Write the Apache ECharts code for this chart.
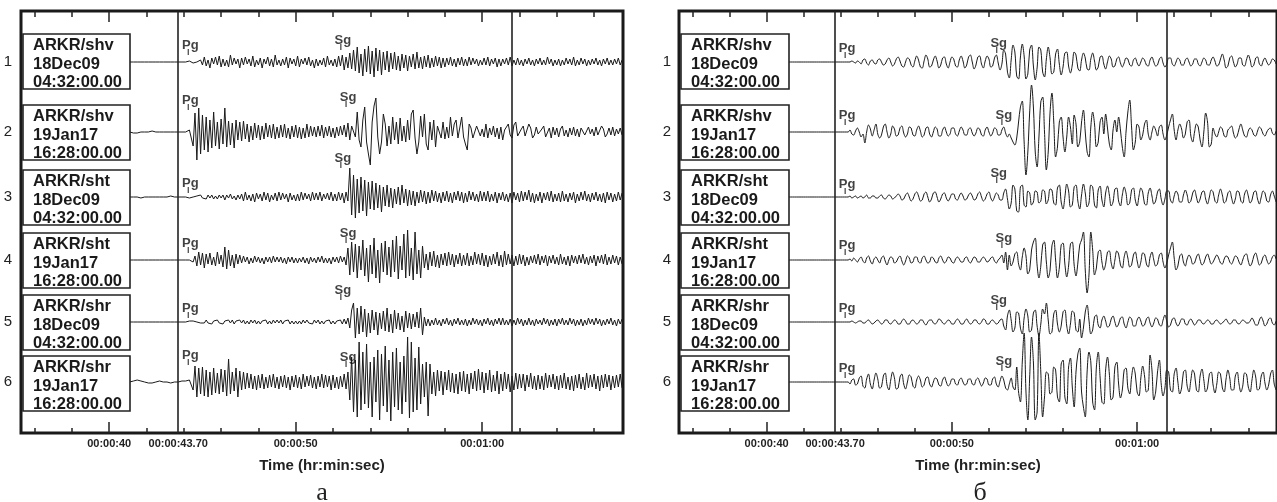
<!DOCTYPE html>
<html><head><meta charset="utf-8">
<script src="https://cdn.jsdelivr.net/npm/echarts@6/dist/echarts.min.js"></script>
<style>html,body{margin:0;padding:0;background:#fff}#c{width:1277px;height:502px}</style>
</head><body><div id="c"></div>
<script>
// ---------- data ----------
const stations = ['ARKR/shv','ARKR/shv','ARKR/sht','ARKR/sht','ARKR/shr','ARKR/shr'];
const eventDates = ['18Dec09','19Jan17','18Dec09','19Jan17','18Dec09','19Jan17'];
const eventTimes = ['04:32:00.00','16:28:00.00','04:32:00.00','16:28:00.00','04:32:00.00','16:28:00.00'];
const rowNumbers = ['1','2','3','4','5','6'];
const tickValues = [40, 43.7, 50, 60];
const tickLabels = ['00:00:40','00:00:43.70','00:00:50','00:01:00'];
const majorTicks = [40, 50, 60];
const minorTicks = [36,38,42,44,46,48,52,54,56,58,62,64,66];
const markerTimes = [43.7, 61.6];
const pgTimes = [44.24,44.24,44.24,44.24,44.24,44.24];
const sgTimes = [52.42,52.7,52.42,52.7,52.42,52.7];
const panelLetters = ['а','б'];
const traceStart = 41.1, sampleStep = 0.1;   // seconds

// (a) broadband traces, amplitude
const a1 = [0,0,0,0,0,0,0,0,0,0, 0,0,0,0,0,0,0,0,0,0, 0,0,0,0,0,0,0,0,0,0,
 0,0,1,0,-1,1,0,-1,2,-3, 5,-4,2,-6,4,-2,5,-3,6,-5, 3,-4,2,-5,7,-3,4,-2,3,-6,
 4,-3,5,-2,3,-4,6,-5,2,-3, 4,-6,3,-2,5,-4,3,-5,7,-3, 2,-4,3,-3,5,-6,4,-2,3,-4,
 6,-5,3,-2,4,-3,5,-4,2,-6, 3,-4,2,-3,4,-5,6,-3,2,-4, 3,-5,6,-4,7,-8,5,-6,9,-7,
 12,-9,15,-11,8,-14,13,-10,16,-12, 11,-15,14,-9,12,-13,10,-8,11,-10, 9,-7,10,-8,6,-9,8,-6,7,-9,
 6,-5,8,-7,10,-6,5,-7,6,-5, 7,-6,4,-5,6,-4,5,-6,4,-5, 4,-3,5,-4,3,-5,4,-3,5,-4,
 3,-4,5,-3,4,-2,3,-4,2,-3, 4,-3,5,-4,3,-2,4,-5,3,-4, 3,-2,4,-3,5,-4,2,-3,4,-3,
 2,-4,3,-2,4,-3,2,-4,3,-2, 4,-3,2,-3,5,-2,3,-4,2,-3, 3,-4,2,-3,4,-2,3,-3,5,-4,
 2,-3,4,-2,3,-4,2,-3,3,-2, 4,-3,2,-4,3,-2,4,-3,2,-3, 3,-2,4,-3,2];
const a2 = [0,0,-1,-1,-1,-1,0,0,0,0, 0,1,1,1,0,0,0,0,0,0, 0,0,0,0,0,0,0,0,0,0,
 0,1,2,3,-14,19,-28,24,-22,17, -18,15,-20,12,-16,20,-14,10,-17,13, -12,24,-15,11,-13,9,-16,12,-8,10,
 -9,11,-7,8,-10,6,-8,9,-6,7, -8,6,-7,9,-5,7,-6,8,-7,5, -6,7,-5,8,-6,4,-7,6,-5,7,
 -6,5,-7,4,-6,8,-5,6,-4,5, -5,6,-4,7,-6,5,-4,6,-5,4, -6,5,-4,6,-3,7,-5,9,-8,6,
 4,-5,20,-8,-15,12,25,-10,-22,-33, 10,26,34,-5,-22,-10,18,8,-14,6, -12,15,-8,10,-12,14,-9,6,-10,12,
 -8,18,22,-6,-22,-10,16,-5,18,-12, -18,10,-8,12,-15,6,8,-6,10,-7, 5,-6,15,-4,8,12,-6,-4,15,-5,
 -12,-18,8,4,-6,-8,6,5,-4,3, -5,8,-6,4,-3,6,-5,4,-7,5, -8,2,5,8,-3,-6,7,10,-4,-6,
 3,6,-4,-5,8,4,-6,-3,5,-2, -4,3,6,-5,-3,4,-6,5,-3,4, -5,3,6,-4,2,-5,4,-3,5,-4,
 3,-5,4,6,-3,-4,5,-2,3,-4, 5,-3,-4,6,3,-5,-2,4,-3,5, -4,3,-2,4,-3];
const a3 = [0,0,0,1,0,0,-1,0,0,0, 0,1,0,0,0,0,0,-1,0,0, 0,0,1,0,0,0,0,0,0,0,
 0,1,-1,1,0,-1,1,-1,2,-1, 1,-2,2,-1,2,-2,1,-2,2,-1, 2,-3,2,-1,3,-2,1,-3,2,-2,
 3,-4,5,-3,2,-4,3,-5,4,-2, 3,-4,5,-3,4,-5,2,-3,4,-4, 5,-3,4,-2,3,-5,4,-3,2,-4,
 3,-4,5,-3,4,-2,3,-4,5,-3, 4,-3,5,-4,3,-2,4,-3,5,-4, 3,-4,5,-3,4,-6,5,-4,29,-18,
 22,-21,18,-16,20,-14,17,-19,15,-12, 16,-13,14,-11,12,-15,10,-9,12,-10, 9,-11,8,-7,10,-8,12,-6,8,-9,
 7,-8,6,-9,5,-6,7,-5,6,-7, 5,-6,7,-4,6,-5,4,-6,5,-4, 6,-5,4,-6,5,-3,6,-4,5,-6,
 4,-5,6,-3,5,-4,3,-5,6,-4, 5,-4,6,-5,3,-4,5,-6,4,-3, 5,-4,3,-5,4,-6,5,-3,4,-5,
 6,-4,5,-3,7,-5,4,-6,3,-4, 5,-6,4,-3,5,-4,6,-5,3,-4, 4,-5,6,-4,3,-5,4,-3,5,-6,
 3,-4,5,-3,6,-4,3,-5,4,-3, 5,-4,3,-5,4,-6,5,-3,4,-5, 3,-4,5,-3,4];
const a4 = [0,0,0,0,0,0,0,0,0,0, 0,0,0,0,0,0,0,0,0,0, 0,0,0,0,0,0,0,0,0,0,
 0,0,0,1,-2,4,-6,8,-5,7, -8,6,-4,7,-5,3,-6,8,-4,5, -7,13,-9,10,-6,5,-8,6,-4,5,
 -3,4,-2,3,-4,2,-3,4,-2,3, -3,2,-4,3,-2,3,-3,4,-2,3, -2,3,-3,2,-4,3,-2,3,-3,2,
 -3,2,-2,3,-3,2,-4,3,-2,2, -3,3,-2,4,-3,2,-3,2,-4,3, -2,3,-3,4,-2,3,-5,12,-15,18,
 -12,16,-18,14,-10,20,-16,12,-22,15, -14,22,-18,10,-23,17,-12,19,-15,13, -17,20,-12,24,-19,14,-10,26,-18,30,
 -16,12,-20,28,-14,10,-18,14,-8,6, -10,8,-6,9,-7,5,-8,6,-5,7, -6,8,-5,6,-7,5,-4,7,-6,5,
 -5,7,-6,4,-5,8,-4,6,-5,7, -6,5,-7,4,-5,6,-4,8,-6,5, -7,9,-5,6,-4,5,-6,4,-5,6,
 -4,5,-6,3,-5,4,-3,5,-4,6, -5,4,-3,5,-6,4,-3,5,-4,3, -5,6,-4,3,-5,4,-6,5,-3,4,
 -4,5,-3,6,-4,3,-5,4,-3,5, -6,4,-3,5,-4,6,-5,3,-4,5, -3,4,-5,3,-4];
const a5 = [0,0,0,0,0,0,0,0,0,0, 0,0,0,0,0,0,0,0,0,0, 0,0,0,0,0,0,0,0,0,0,
 0,0,1,-1,1,-1,0,1,-1,1, -1,2,-1,1,-2,1,-1,2,-1,1, -2,1,-1,2,-1,2,-2,1,-1,2,
 -1,2,-2,1,-2,2,-1,2,-2,1, -2,1,-1,2,-2,1,-2,2,-1,2, -1,2,-2,1,-1,2,-2,1,-2,1,
 -2,1,-2,2,-1,2,-1,1,-2,2, -1,2,-2,1,-2,1,-1,2,-2,1, -2,1,-1,2,-2,3,-2,4,-6,12,
 19,-16,14,-12,16,-10,13,-15,9,-11, 12,-8,10,-13,9,-7,11,-9,14,-10, 8,-11,12,-7,9,-8,6,-10,11,-6,
 9,-7,8,-5,10,-6,14,-13,5,-4, 3,-4,2,-3,4,-3,2,-4,3,-2, 4,-3,2,-4,3,-2,4,-3,2,-3,
 3,-4,2,-3,4,-2,3,-3,2,-4, 3,-2,4,-3,2,-4,3,-2,4,-3, 4,-3,2,-3,3,-4,2,-3,4,-2,
 3,-4,2,-3,4,-3,2,-4,3,-2, 2,-3,4,-2,3,-4,2,-3,3,-4, 3,-2,4,-3,2,-3,4,-2,3,-4,
 2,-3,3,-4,2,-3,4,-2,3,-3, 4,-2,3,-4,2,-3,3,-2,4,-3, 2,-4,3,-2,3];
const a6 = [0,1,1,2,2,2,1,1,0,0, -1,-1,-1,0,0,1,1,1,0,0, 0,-1,-1,-1,0,0,0,1,1,1,
 1,1,2,3,-8,16,-15,14,-12,15, -14,12,-15,10,-13,14,-11,9,-12,13, -10,12,-14,23,-12,10,-9,14,-15,11,
 -8,10,-7,9,-6,8,-7,6,-8,7, -6,8,-7,5,-6,7,-5,8,-6,5, -7,6,-5,7,-6,5,-8,6,-5,7,
 -6,5,-7,8,-5,6,-4,7,-6,5, -7,6,-5,8,-6,7,-5,6,-8,7, -6,5,-7,6,-5,8,-7,10,-18,25,
 -30,22,-35,40,-28,30,-22,38,-26,20, -35,25,-20,32,-38,28,-24,36,-30,22, -39,30,-25,34,-28,20,-32,26,-20,45,
 -36,40,-30,24,-28,35,-22,18,-15,20, -34,18,-12,10,-14,12,-9,11,-13,10, -8,12,-10,9,-11,8,-12,10,-9,11,
 -10,8,-12,9,-7,11,-9,13,-8,10, -11,9,-8,12,-10,7,-9,11,-12,8, -9,10,-7,8,-10,6,-8,9,-7,8,
 -6,8,-9,7,-5,9,-7,6,-8,7, -7,6,-8,9,-6,7,-5,8,-7,6, -8,7,-6,9,-7,5,-8,6,-9,7,
 -6,8,-7,5,-8,9,-6,7,-5,8, -7,6,-9,7,-6,8,-5,7,-8,6, -6,7,-5,8,-6];

// (б) filtered traces, amplitude
const b1 = [0,0,0,0,0,0,0,0,0,0, 0,0,0,0,0,0,0,0,0,0, 0,0,0,0,0,0,0,0,0,0,
 0,0,0,0,0,1,0,-1,1,0, -2,2,3,-1,-3,1,2,-1,-2,2, 3,0,-3,-2,2,4,0,-4,-2,3,
 5,1,-4,-5,0,4,3,-3,-5,1, 6,2,-5,-6,1,7,3,-5,-4,2, 6,1,-6,-3,4,5,-2,-6,0,5,
 3,-4,-5,2,6,1,-6,-3,5,7, 0,-7,-3,5,6,-2,-6,1,6,3, -5,-4,4,7,-1,-8,-2,12,8,-10,
 -16,2,17,10,-14,-17,5,18,6,-17, -12,12,17,-4,-18,-6,15,12,-10,-15, 3,15,4,-12,-10,8,13,-2,-13,-5,
 9,10,-4,-11,-3,10,7,-6,-9,2, 9,4,-7,-8,3,9,1,-8,-5,5, 6,-2,-7,0,6,3,-5,-4,3,5,
 -1,-5,-1,4,3,-3,-4,2,4,-1, -4,0,4,2,-3,-4,2,5,0,-4, -3,3,5,-1,-5,-2,4,4,-2,-4,
 0,4,2,-3,-3,2,4,0,-4,-2, 3,3,-2,-4,0,4,2,-3,-3,2, 5,1,-4,-3,3,8,2,-6,-4,4,
 6,0,-5,-2,4,4,-3,-4,2,7, 2,-5,-3,4,5,-2,-4,1,4,0, -3,-1,3,2,-2];
const b2 = [0,0,0,0,0,0,0,0,0,0, 0,0,0,0,0,0,0,0,0,0, 0,0,0,0,0,0,0,0,0,0,
 0,0,0,0,2,-2,-3,1,4,0, -5,-2,-11,0,7,3,-4,2,8,-2, -6,-3,5,8,0,-6,-2,6,3,-4,
 -3,4,6,-1,-5,-2,5,4,-3,-4, 2,6,1,-5,-3,4,5,-2,-5,0, 5,3,-4,-4,2,5,0,-4,-2,4,
 4,-2,-4,1,5,2,-3,-3,3,4, -1,-4,-1,4,3,-3,-4,2,5,0, -4,-1,4,3,-3,-3,2,5,-1,-5,
 -2,-6,-10,-13,-6,10,25,31,-10,-43, -20,20,47,25,-20,-35,-5,30,35,0, -38,-20,20,39,10,-25,-15,10,15,-5,
 -20,-5,15,5,-12,17,8,-15,-10,10, 22,0,-20,-25,5,20,8,-15,-10,10, 15,-2,18,4,-12,-18,2,12,0,15,
 2,-15,-25,0,20,32,5,-18,-10,8, 5,-8,-3,8,12,-2,-8,0,6,2, -4,5,7,-2,-8,-3,5,12,18,2,
 -8,2,8,3,-6,-2,10,12,-4,-10, 0,8,5,-8,-15,0,19,10,-15,-12, 4,-2,-5,0,5,3,-4,-5,2,4,
 6,-1,-6,-4,3,8,2,-4,-5,1, 4,2,-3,-4,1,5,3,-2,-4,0, 3,4,-1,-3,1];
const b3 = [0,0,0,0,0,0,0,0,0,0, 0,0,0,0,0,0,0,0,0,0, 0,0,0,0,0,0,0,0,0,0,
 0,0,0,0,1,-1,0,1,-1,0, 1,-1,0,2,-1,-1,1,1,-1,-1, 1,2,-1,-2,0,2,1,-2,-1,1,
 3,1,-3,-2,2,4,0,-4,-2,3, 5,1,-4,-3,3,5,0,-5,-2,4, 5,0,-5,-2,3,4,-1,-4,-1,3,
 3,-2,-3,1,4,1,-3,-2,2,4, 1,-3,-2,3,5,0,-4,-2,3,5, -1,-4,0,4,2,-3,-3,4,8,-2,
 -12,-6,12,8,-14,-15,10,12,-8,-10, 6,4,-8,-5,6,5,-6,-4,7,6, -7,-3,8,7,-6,-8,9,12,-5,-12,
 0,13,6,-10,-8,10,12,-4,-12,2, 13,4,-10,-6,12,10,-8,-11,7,11, -3,-10,4,11,2,-9,-5,8,9,-4,
 -9,2,10,4,-8,-6,7,9,-3,-9, 1,9,5,-7,-8,4,9,1,-7,-4, 5,8,-2,-8,-2,6,6,-3,-6,1,
 6,3,-5,-5,2,7,2,-6,-4,4, 7,0,-6,-2,5,6,-2,-7,0,7, 5,-4,-6,2,8,2,-6,-4,4,6,
 -1,-7,-2,6,5,-4,-6,3,7,1, -6,-3,5,6,-2,-7,0,6,4,-4, -5,2,6,1,-5];
const b4 = [0,0,0,0,0,0,0,0,0,0, 0,0,0,0,0,0,0,0,0,0, 0,0,0,0,0,0,0,0,0,0,
 0,0,0,0,1,-1,2,0,-2,1, 3,-1,-3,2,4,-1,-4,1,3,0, -3,2,4,-1,-5,0,3,2,-3,-2,
 2,4,-1,-5,-1,4,2,-3,-2,3, 3,-2,-3,2,4,0,-3,-2,3,2, -2,-3,2,4,0,-3,-1,3,2,-2,
 -3,1,3,1,-2,-2,2,3,-1,-3, 0,3,2,-2,-2,1,3,1,-2,-1, 2,3,-1,-3,0,2,5,-3,8,-10,
 5,-6,-2,6,8,-4,-10,3,12,4, -14,-10,10,18,22,-5,-18,-6,15,18, -2,-18,-10,14,20,0,-18,-8,15,17,
 -4,-17,-6,16,18,-5,-16,-3,15,20, 28,-10,-33,-15,28,10,-15,-8,8,10, -2,-10,-4,8,9,-3,-9,0,9,6,
 -5,-8,3,9,2,-7,-5,5,8,-1, -8,-2,7,6,-4,-7,3,8,0,-6, -4,5,7,-2,-8,-3,5,12,18,2,
 -10,-6,4,6,-2,-6,1,5,2,-4, -3,3,6,0,-5,-3,3,6,1,-4, -2,2,5,2,-3,-4,1,4,3,-2,
 -4,0,4,3,-2,-5,0,5,6,-1, -6,-3,4,7,1,-5,-3,3,5,0, -4,-2,3,5,1];
const b5 = [0,0,0,0,0,0,0,0,0,0, 0,0,0,0,0,0,0,0,0,0, 0,0,0,0,0,0,0,0,0,0,
 0,0,0,0,0,1,0,-1,0,1, 1,-1,-1,1,2,0,-2,-1,1,2, 0,-2,-1,2,2,-1,-2,0,2,1,
 -2,-2,1,3,1,-2,-2,1,2,0, -2,-1,2,2,-1,-3,0,2,2,-1, -2,0,3,2,-1,-2,0,2,1,-2,
 -2,1,3,1,-2,-2,1,3,0,-2, -1,2,2,-1,-2,0,3,2,-2,-2, 1,2,0,-2,-1,2,3,-4,-8,6,
 12,2,-10,-6,10,9,-6,-12,4,13, 6,-10,-8,9,12,-4,-14,-2,13,8, 19,2,-12,-10,8,12,-2,-10,-4,10,
 12,-4,-12,-2,11,9,-8,-10,3,-16, -6,10,17,2,-12,-8,5,7,-3,-6, 2,6,1,-5,-4,3,6,0,-5,-2,
 4,5,-2,-6,0,5,3,-4,-4,2, 5,1,-4,-3,3,5,-1,-5,-1,4, 3,-3,-4,2,7,1,-5,-3,3,4,
 -1,-4,-1,3,3,-2,-3,1,3,0, -3,-1,2,2,-1,-2,0,2,1,-2, -2,1,2,0,-2,-1,1,3,0,-2,
 -1,2,2,-1,-2,0,2,1,-1,-1, 1,4,1,-3,-3,2,5,1,-4,-2, 3,4,-1,-3,1];
const b6 = [0,0,0,0,0,0,0,0,0,0, 0,0,0,0,0,0,0,0,0,0, 0,0,0,0,0,0,0,0,0,0,
 0,0,0,0,-2,2,3,-3,-2,4, 6,-4,-6,3,8,-2,-7,2,9,3, -6,-5,6,9,-3,-8,2,10,4,-7,
 -6,5,8,-2,-7,0,7,5,-4,-6, 2,6,2,-5,-3,4,5,-2,-5,0, 4,3,-3,-4,2,5,0,-4,-2,3,
 3,-2,-3,2,4,0,-3,-2,3,3, -2,-3,2,4,0,-4,-1,4,3,-3, -3,3,5,-2,-5,1,6,2,-6,-8,
 -2,4,-5,-8,15,-10,-20,20,49,-10, -38,5,45,20,-38,-30,49,10,-35,-15, 10,8,-12,-10,15,12,-15,-20,18,22,
 -15,-22,15,24,-5,-25,10,28,34,-10, -25,-35,10,30,20,-20,-28,15,30,5, -20,-22,12,25,8,-18,-15,15,20,-2,
 -16,-8,12,14,-6,-12,5,15,8,-10, -14,4,16,6,-10,-8,27,12,-18,-10, 10,22,-2,-14,-6,12,10,-8,-10,8,
 14,0,-12,-6,10,12,-4,-10,2,12, 8,-8,-10,6,13,2,-10,-6,8,10, -3,-11,-2,10,8,-6,-10,3,12,4,
 -8,-8,6,10,-2,-10,-4,9,8,-5, -10,2,12,5,-8,-7,6,10,-1,-8, -3,8,12,-2,-8];

const tracesA = [a1,a2,a3,a4,a5,a6];
const tracesB = [b1,b2,b3,b4,b5,b6];

// ---------- layout ----------
const FONT = '"Liberation Sans", Arial, sans-serif';
const gridTop = 11, gridH = 422, gridW = 602;
const xMin = 35.27, xMax = 67.55;
const rowY = [62, 132, 197, 260, 322, 382];
const boxTop = [34, 105, 170, 233, 295, 356], boxH = 55;
const panels = [
  {left: 21, boxX: 23, boxW: 107, numX: 8, traces: tracesA, smooth: false,
   pgH: [7,22,4,7,4,17], sgH: [12,25,29,17,22,15]},
  {left: 679, boxX: 681, boxW: 108, numX: 667, traces: tracesB, smooth: 0.35,
   pgH: [4,7,3,5,4,4], sgH: [9,7,14,12,12,11]}
];
const topMajorLen = 11, topMinorLen = 6;   // px below the top frame edge

const grids = [], xAxes = [], yAxes = [], series = [], graphics = [];
const tickColor = '#222';
function labelFor(v) {
  const k = tickValues.findIndex(t => Math.abs(t - v) < 1e-6);
  return k >= 0 ? tickLabels[k] : '';
}
panels.forEach((p, gi) => {
  grids.push({left: p.left, top: gridTop, width: gridW, height: gridH, show: true,
    borderColor: '#1a1a1a', borderWidth: 3, backgroundColor: 'transparent'});
  const base = {gridIndex: gi, type: 'value', min: xMin, max: xMax,
    axisLine: {show: false, onZero: false}, splitLine: {show: false}};
  xAxes.push(Object.assign({}, base, {position: 'bottom',
    axisTick: {show: true, inside: true, length: 11, customValues: majorTicks, lineStyle: {color: tickColor, width: 1.5}},
    axisLabel: {show: true, customValues: tickValues, formatter: labelFor, fontSize: 11, fontWeight: 'bold',
      fontFamily: FONT, color: '#222', margin: 5},
    name: 'Time (hr:min:sec)', nameLocation: 'middle', nameGap: 25,
    nameTextStyle: {fontSize: 15, fontWeight: 'bold', fontFamily: FONT, color: '#222'}}));
  xAxes.push(Object.assign({}, base, {position: 'bottom',
    axisTick: {show: true, inside: true, length: 5, customValues: minorTicks, lineStyle: {color: tickColor, width: 1.5}},
    axisLabel: {show: false}}));
  yAxes.push({gridIndex: gi, type: 'value', min: 0, max: gridH, inverse: true, show: false});
  const xi = gi * 2;

  p.traces.forEach((arr, r) => {
    const b = rowY[r] - gridTop;
    const s = {type: 'line', xAxisIndex: xi, yAxisIndex: gi, symbol: 'none', showSymbol: false,
      smooth: p.smooth, animation: false, silent: true, z: 3,
      lineStyle: {color: '#1a1a1a', width: 1},
      data: arr.map((v, i) => [traceStart + i * sampleStep, b - v])};
    if (r === 0) {
      s.markLine = {silent: true, symbol: ['none', 'none'], label: {show: false}, animation: false,
        lineStyle: {color: '#222', width: 1.6, type: 'solid'},
        data: markerTimes.map(t => ({xAxis: t}))};
    }
    series.push(s);
  });
  [['Pg', pgTimes, p.pgH], ['Sg', sgTimes, p.sgH]].forEach(([name, times, hs]) => {
    series.push({type: 'scatter', xAxisIndex: xi, yAxisIndex: gi, animation: false, silent: true, z: 5,
      symbol: 'rect', symbolSize: [1.3, 6], itemStyle: {color: '#222'},
      label: {show: true, formatter: name, position: 'top', distance: 0, offset: [2, 3],
        fontSize: 13, fontWeight: 'bold', fontFamily: FONT, color: '#111'},
      data: times.map((t, r) => [t, rowY[r] - gridTop - hs[r] - 3])});
  });

  // label boxes and row numbers
  stations.forEach((st, r) => {
    const y0 = boxTop[r];
    graphics.push({type: 'rect', z: 20, shape: {x: p.boxX, y: y0, width: p.boxW, height: boxH},
      style: {fill: '#fff', stroke: '#222', lineWidth: 1.6}});
    [st, eventDates[r], eventTimes[r]].forEach((txt, k) => {
      graphics.push({type: 'text', z: 21, x: p.boxX + 10, y: y0 + 11.5 + k * 18.5,
        style: {text: txt, font: 'bold 16.5px ' + FONT, fill: '#1a1a1a', align: 'left', verticalAlign: 'middle'}});
    });
    graphics.push({type: 'text', z: 21, x: p.numX, y: rowY[r],
      style: {text: rowNumbers[r], font: '15px ' + FONT, fill: '#222', align: 'center', verticalAlign: 'middle'}});
  });
  graphics.push({type: 'text', z: 21, x: p.left + gridW / 2, y: 493,
    style: {text: panelLetters[gi], font: '26px "Liberation Serif", "DejaVu Serif", serif', fill: '#222',
      align: 'center', verticalAlign: 'middle'}});
});

// ticks hanging from the top frame edge: thin helper grids whose bottom axis ticks point up to the edge
panels.forEach((p, gi) => {
  [[majorTicks, topMajorLen], [minorTicks, topMinorLen]].forEach(([vals, len]) => {
    const g = grids.length;
    grids.push({left: p.left, top: gridTop, width: gridW, height: len, show: false});
    xAxes.push({gridIndex: g, type: 'value', min: xMin, max: xMax, position: 'bottom',
      axisLine: {show: false, onZero: false}, splitLine: {show: false}, axisLabel: {show: false},
      axisTick: {show: true, inside: true, length: len, customValues: vals, lineStyle: {color: tickColor, width: 1.5}}});
    yAxes.push({gridIndex: g, type: 'value', min: 0, max: 1, show: false});
  });
});

const chart = echarts.init(document.getElementById('c'), null, {renderer: 'canvas'});
chart.setOption({animation: false, backgroundColor: '#fff', grid: grids, xAxis: xAxes, yAxis: yAxes,
  series: series, graphic: graphics});
</script></body></html>
